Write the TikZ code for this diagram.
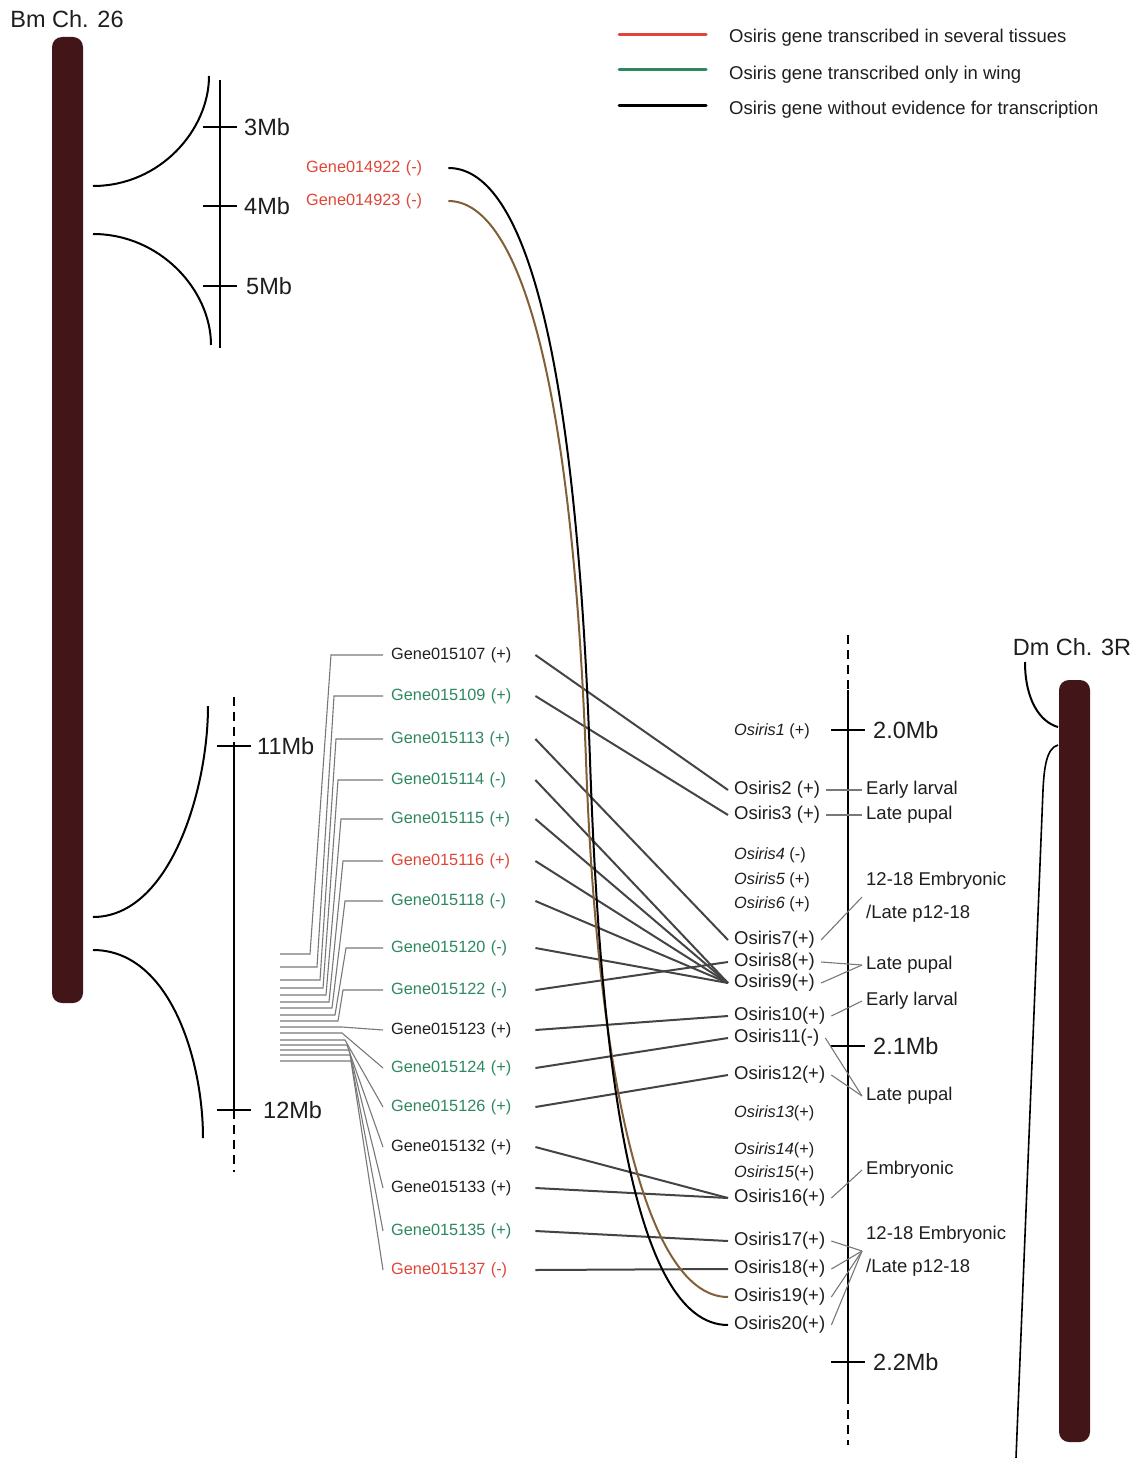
\documentclass[tikz,border=0pt]{standalone}
\usepackage{fontspec}
\setmainfont{Liberation Sans}
\definecolor{chrom}{RGB}{66,22,24}
\definecolor{genered}{RGB}{222,70,55}
\definecolor{genegreen}{RGB}{45,135,95}
\definecolor{curvebrown}{RGB}{130,95,55}
\definecolor{linkgray}{RGB}{68,68,68}
\definecolor{fangray}{RGB}{120,120,120}
\definecolor{textblack}{RGB}{30,30,30}

\begin{document}
\begin{tikzpicture}
  [x=1pt,y=-1pt,every node/.style={inner sep=0pt,text=textblack}]
  \tikzstyle{big} = [font=\fontsize{23.5}{28}\selectfont]
  \tikzstyle{gene} = [anchor=west, inner xsep=8pt, text width=136pt, font=\fontsize{16.3}{19}\selectfont]
  \tikzstyle{osi} = [anchor=west, inner xsep=6pt, font=\fontsize{18.5}{22}\selectfont]
  \tikzstyle{osit} = [osi, font=\fontsize{16.3}{19}\selectfont]
  \tikzstyle{stage} = [anchor=west, inner xsep=4pt, align=left, font=\fontsize{18.5}{33}\selectfont]
  \tikzstyle{legend} = [anchor=west, font=\fontsize{18.5}{22}\selectfont]
  \tikzstyle{link} = [draw=linkgray, line width=2pt]
  \tikzstyle{fan} = [draw=fangray, line width=1.1pt]
  \tikzstyle{axis} = [line width=2pt]
  \tikzstyle{dashax} = [line width=2pt, dash pattern=on 9pt off 6pt]
  \useasboundingbox (0,0) rectangle (1135,1458);

  % chromosomes
  \node[big] (bm) at (67,19) {Bm Ch. 26};
  \node[big] (dm) at (1072,647) {Dm Ch. 3R};
  \fill[chrom, rounded corners=10pt] (52,37) rectangle (83,1003);
  \fill[chrom, rounded corners=10pt] (1059,680) rectangle (1090,1442);

  % legend
  \draw[genered, line width=3pt, line cap=round] (619,35) -- (706,35);
  \draw[genegreen, line width=3pt, line cap=round] (619,70) -- (706,70);
  \draw[black, line width=3pt, line cap=round] (619,106) -- (706,106);
  \node[legend] (l1) at (729,38) {Osiris gene transcribed in several tissues};
  \node[legend] (l2) at (729,75) {Osiris gene transcribed only in wing};
  \node[legend] (l3) at (729,110) {Osiris gene without evidence for transcription};

  % Bm scale, 3-5Mb
  \draw[axis] (93,186) .. controls (160,186) and (209,130) .. (209,76);
  \draw[axis] (93,234) .. controls (160,234) and (211,290) .. (211,345);
  \draw[axis] (220,80) -- (220,348);
  \foreach \y/\lab/\x in {127/3Mb/244, 206/4Mb/244, 286/5Mb/246} {
    \draw[axis] (203,\y) -- (237,\y);
    \node[big, anchor=west] at (\x,\y) {\lab};
  }

  % Bm scale, 11-12Mb
  \draw[axis] (93,917) .. controls (170,917) and (208,790) .. (208,706);
  \draw[axis] (93,950) .. controls (170,950) and (203,1060) .. (203,1138);
  \draw[dashax] (234,697) -- (234,746);
  \draw[axis] (234,746) -- (234,1110);
  \draw[dashax] (234,1110) -- (234,1172);
  \draw[axis] (217,746) -- (251,746);
  \draw[axis] (217,1110) -- (251,1110);
  \node[big, anchor=west] (mb11) at (257,746) {11Mb};
  \node[big, anchor=west] (mb12) at (263,1110) {12Mb};

  % Dm scale
  \draw[dashax] (848,635) -- (848,690);
  \draw[axis] (848,690) -- (848,1395);
  \draw[dashax] (848,1395) -- (848,1445);
  \foreach \y/\lab in {730/2.0Mb, 1046/2.1Mb, 1362/2.2Mb} {
    \draw[axis] (831,\y) -- (865,\y);
    \node[big, anchor=west] at (873,\y) {\lab};
  }
  \draw[axis] (1025,662) .. controls (1025,700) and (1040,722) .. (1058,727);
  \draw[line width=1.6pt] (1058,745) .. controls (1046,748) and (1044,770) .. (1043,790) -- (1016,1458);

  % Bm genes
  \node[gene, text width=134pt, text=genered] (g4922) at (298,168) {Gene014922 (-)};
  \node[gene, text width=134pt, text=genered] (g4923) at (298,201) {Gene014923 (-)};
  \node[gene] (g107) at (383,655) {Gene015107 (+)};
  \node[gene, text=genegreen] (g109) at (383,696) {Gene015109 (+)};
  \node[gene, text=genegreen] (g113) at (383,739) {Gene015113 (+)};
  \node[gene, text=genegreen] (g114) at (383,780) {Gene015114 (-)};
  \node[gene, text=genegreen] (g115) at (383,819) {Gene015115 (+)};
  \node[gene, text=genered] (g116) at (383,861) {Gene015116 (+)};
  \node[gene, text=genegreen] (g118) at (383,901) {Gene015118 (-)};
  \node[gene, text=genegreen] (g120) at (383,948) {Gene015120 (-)};
  \node[gene, text=genegreen] (g122) at (383,990) {Gene015122 (-)};
  \node[gene] (g123) at (383,1030) {Gene015123 (+)};
  \node[gene, text=genegreen] (g124) at (383,1068) {Gene015124 (+)};
  \node[gene, text=genegreen] (g126) at (383,1107) {Gene015126 (+)};
  \node[gene] (g132) at (383,1147) {Gene015132 (+)};
  \node[gene] (g133) at (383,1188) {Gene015133 (+)};
  \node[gene, text=genegreen] (g135) at (383,1231) {Gene015135 (+)};
  \node[gene, text=genered] (g137) at (383,1270) {Gene015137 (-)};

  % gene positions on the 11-12Mb stretch
  \foreach \g/\sy/\sx/\bx in {g107/954/310/331, g109/967/317/334, g113/980/320/336,
      g114/988/323/338, g115/995/326/341, g116/1002/329/343, g118/1008/332/345,
      g120/1015/335/346, g122/1021/338/343}
    \draw[fan] (280,\sy) -- (\sx,\sy) -- (\bx,0 |- \g.west) -- (\g.west);
  \foreach \g/\sy/\sx in {g123/1027/342, g124/1033/342, g126/1040/345, g132/1045/347,
      g133/1050/349, g135/1055/350, g137/1061/351}
    \draw[fan] (280,\sy) -- (\sx,\sy) -- (\g.west);

  % Dm Osiris genes
  \node[osit] (o1) at (728,731) {\textit{Osiris1} (+)};
  \node[osi] (o2) at (728,790) {Osiris2 (+)};
  \node[osi] (o3) at (728,815) {Osiris3 (+)};
  \node[osit] (o4) at (728,855) {\textit{Osiris4} (-)};
  \node[osit] (o5) at (728,880) {\textit{Osiris5} (+)};
  \node[osit] (o6) at (728,904) {\textit{Osiris6} (+)};
  \node[osi] (o7) at (728,940) {Osiris7(+)};
  \node[osi] (o8) at (728,962) {Osiris8(+)};
  \node[osi] (o9) at (728,983) {Osiris9(+)};
  \node[osi] (o10) at (728,1016) {Osiris10(+)};
  \node[osi] (o11) at (728,1038) {Osiris11(-)};
  \node[osi] (o12) at (728,1075) {Osiris12(+)};
  \node[osit] (o13) at (728,1113) {\textit{Osiris13}(+)};
  \node[osit] (o14) at (728,1150) {\textit{Osiris14}(+)};
  \node[osit] (o15) at (728,1173) {\textit{Osiris15}(+)};
  \node[osi] (o16) at (728,1198) {Osiris16(+)};
  \node[osi] (o17) at (728,1241) {Osiris17(+)};
  \node[osi] (o18) at (728,1269) {Osiris18(+)};
  \node[osi] (o19) at (728,1297) {Osiris19(+)};
  \node[osi] (o20) at (728,1325) {Osiris20(+)};

  % expression stages
  \node[stage] (st2) at (862,790) {Early larval};
  \node[stage] (st3) at (862,815) {Late pupal};
  \node[stage] (st7) at (862,897) {12-18 Embryonic\\/Late p12-18};
  \node[stage] (st8) at (862,965) {Late pupal};
  \node[stage] (st10) at (862,1001) {Early larval};
  \node[stage] (st11) at (862,1096) {Late pupal};
  \node[stage] (st16) at (862,1170) {Embryonic};
  \node[stage] (st17) at (862,1251) {12-18 Embryonic\\/Late p12-18};

  \foreach \o/\s in {o2/st2, o3/st3, o7/st7, o8/st8, o9/st8, o10/st10, o11/st11,
      o12/st11, o16/st16, o17/st17, o18/st17, o19/st17, o20/st17}
    \draw[fan] (\o.east) -- (\s.west);

  % orthologues
  \foreach \g/\o in {g107/o2, g109/o3, g113/o7, g114/o9, g115/o9, g116/o9, g118/o9,
      g120/o9, g122/o8, g123/o10, g124/o11, g126/o12, g132/o16, g133/o16,
      g135/o17, g137/o18}
    \draw[link] (\g.east) -- (\o.west);
  \draw[curvebrown, line width=2pt] (g4923.east) .. controls (515,201) and (571,360) .. (586,760)
    .. controls (596,1050) and (640,1297) .. (o19.west);
  \draw[black, line width=2pt] (g4922.east) .. controls (520,168) and (575,330) .. (590,760)
    .. controls (600,1050) and (630,1325) .. (o20.west);
\end{tikzpicture}
\end{document}
